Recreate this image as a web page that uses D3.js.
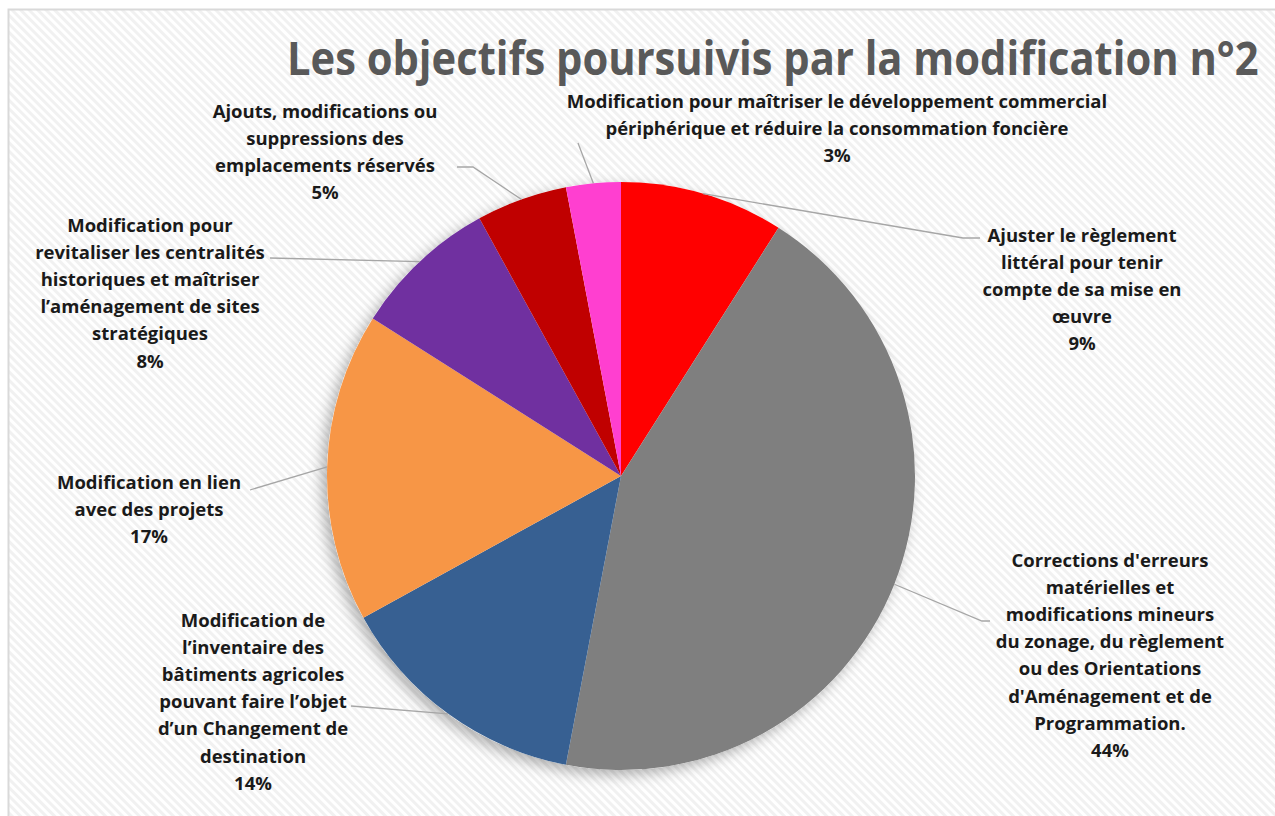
<!DOCTYPE html>
<html>
<head>
<meta charset="utf-8">
<script src="https://cdn.jsdelivr.net/npm/d3@7"></script>
<style>
  html, body { margin: 0; padding: 0; background: #fff; }
  svg { display: block; font-family: 'Open Sans', sans-serif; }
</style>
</head>
<body>
<svg id="chart" width="1275" height="816"></svg>
<script>
// ------------------
// Data
// ------------------
const title = 'Les objectifs poursuivis par la modification n°2'

const categories = [
  ['Ajuster le règlement', 'littéral pour tenir', 'compte de sa mise en', 'œuvre'],
  ['Corrections d\'erreurs', 'matérielles et', 'modifications mineurs', 'du zonage, du règlement', 'ou des Orientations', 'd\'Aménagement et de', 'Programmation.'],
  ['Modification de', 'l’inventaire des', 'bâtiments agricoles', 'pouvant faire l’objet', 'd’un Changement de', 'destination'],
  ['Modification en lien', 'avec des projets'],
  ['Modification pour', 'revitaliser les centralités', 'historiques et maîtriser', 'l’aménagement de sites', 'stratégiques'],
  ['Ajouts, modifications ou', 'suppressions des', 'emplacements réservés'],
  ['Modification pour maîtriser le développement commercial', 'périphérique et réduire la consommation foncière']
]
const values = [9, 44, 14, 17, 8, 5, 3]
const colors = ['#ff0000', '#7f7f7f', '#376092', '#f79646', '#7030a0', '#c00000', '#ff3fd0']

// label layout: text centre x, first line centre y, where the leader meets the label
const labelLayout = [
  { x: 1082, y: 235, lx: 980, ly: 238, kx: 963 },
  { x: 1110, y: 560, lx: 990, ly: 621, kx: 982 },
  { x: 253, y: 620, lx: 351, ly: 706 },
  { x: 149, y: 482, lx: 250, ly: 490 },
  { x: 150, y: 225, lx: 270, ly: 258 },
  { x: 325, y: 111, lx: 457, ly: 167, kx: 473 },
  { x: 837, y: 101, lx: 578, ly: 143 }
]

const width = 1275
const height = 816
const cx = 621
const cy = 476
const radius = 294
const lineH = 27.2

const svg = d3.select('#chart')
const defs = svg.append('defs')

// striped background
const pat = defs.append('pattern')
  .attr('id', 'stripes')
  .attr('patternUnits', 'userSpaceOnUse')
  .attr('width', 6)
  .attr('height', 6)
  .attr('patternTransform', 'rotate(-45)')
pat.append('rect').attr('width', 6).attr('height', 6).attr('fill', '#ffffff')
pat.append('rect').attr('width', 3).attr('height', 6).attr('fill', '#f1f1f1')

const shadow = defs.append('filter')
  .attr('id', 'shadow')
  .attr('x', '-20%').attr('y', '-20%').attr('width', '140%').attr('height', '140%')
shadow.append('feDropShadow')
  .attr('dx', -5).attr('dy', 5)
  .attr('stdDeviation', 7)
  .attr('flood-color', '#000')
  .attr('flood-opacity', 0.3)

svg.append('rect')
  .attr('x', 8.5).attr('y', 9.5)
  .attr('width', width).attr('height', height)
  .attr('fill', 'url(#stripes)')
  .attr('stroke', '#d9d9d9')
  .attr('stroke-width', 2)

// ------------------
// Title (squeezed horizontally to mimic the narrow original face)
// ------------------
const titleText = svg.append('text')
  .attr('font-size', 46)
  .attr('font-weight', 'bold')
  .attr('fill', '#595959')
  .text(title)
const natural = titleText.node().getComputedTextLength()
titleText.attr('transform', `translate(287,75) scale(${972 / natural},1)`)

// ------------------
// Pie
// ------------------
const pie = d3.pie().sort(null).value(d => d)
const arcs = pie(values)
const arc = d3.arc().innerRadius(0).outerRadius(radius)

const g = svg.append('g').attr('transform', `translate(${cx},${cy})`)

g.append('circle')
  .attr('r', radius)
  .attr('fill', '#fff')
  .attr('filter', 'url(#shadow)')

g.selectAll('path.slice')
  .data(arcs)
  .enter()
  .append('path')
  .attr('class', 'slice')
  .attr('d', arc)
  .attr('fill', (d, i) => colors[i])

// ------------------
// Leader lines
// ------------------
svg.selectAll('polyline.leader')
  .data(arcs)
  .enter()
  .append('polyline')
  .attr('class', 'leader')
  .attr('fill', 'none')
  .attr('stroke', '#a6a6a6')
  .attr('stroke-width', 1.3)
  .attr('points', (d, i) => {
    const a = (d.startAngle + d.endAngle) / 2
    const sx = cx + radius * Math.sin(a)
    const sy = cy - radius * Math.cos(a)
    const L = labelLayout[i]
    const pts = [[sx, sy]]
    if (L.kx !== undefined) pts.push([L.kx, L.ly])
    pts.push([L.lx, L.ly])
    return pts.map(p => p.join(',')).join(' ')
  })

// ------------------
// Labels
// ------------------
arcs.forEach((d, i) => {
  const L = labelLayout[i]
  const lines = categories[i].concat([values[i] + '%'])
  const t = svg.append('text')
    .attr('text-anchor', 'middle')
    .attr('font-size', 18.5)
    .attr('font-weight', 'bold')
    .attr('fill', '#1a1a1a')
  lines.forEach((ln, j) => {
    t.append('tspan')
      .attr('x', L.x)
      .attr('y', L.y + j * lineH + 6.5)
      .text(ln)
  })
})
</script>
</body>
</html>
